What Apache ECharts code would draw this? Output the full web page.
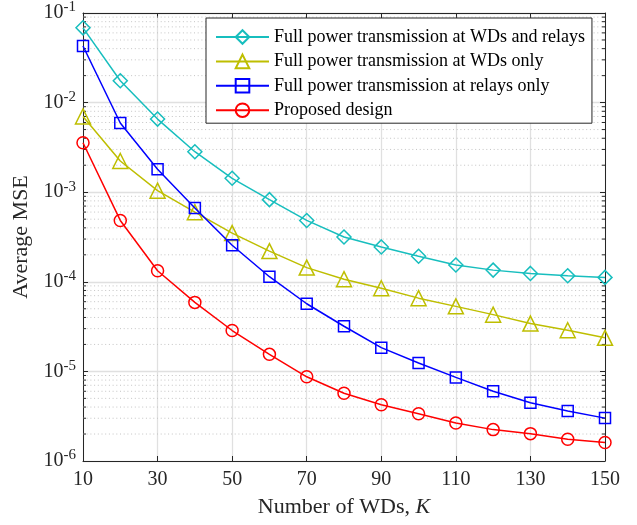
<!DOCTYPE html>
<html>
<head>
<meta charset="utf-8">
<script src="https://cdn.jsdelivr.net/npm/echarts@6/dist/echarts.min.js"></script>
<style>
html,body{margin:0;padding:0;background:#fff;}
#chart{width:637px;height:525px;}
</style>
</head>
<body>
<div id="chart"></div>
<script>
const kValues = [10,20,30,40,50,60,70,80,90,100,110,120,130,140,150];
const fullBoth = [0.0683,0.01755,0.00655,0.00283,0.00143,8.26e-4,4.84e-4,3.16e-4,2.45e-4,1.93e-4,1.54e-4,1.35e-4,1.24e-4,1.17e-4,1.12e-4];
const fullWDs = [0.00701,0.00223,0.00104,5.98e-4,3.50e-4,2.20e-4,1.44e-4,1.07e-4,8.47e-5,6.57e-5,5.32e-5,4.30e-5,3.42e-5,2.88e-5,2.37e-5];
const fullRelays = [0.0428,0.00592,0.00180,6.67e-4,2.56e-4,1.14e-4,5.69e-5,3.19e-5,1.84e-5,1.24e-5,8.57e-6,6.0e-6,4.46e-6,3.61e-6,3.01e-6];
const proposed = [0.00356,4.84e-4,1.33e-4,5.89e-5,2.86e-5,1.55e-5,8.71e-6,5.70e-6,4.24e-6,3.37e-6,2.65e-6,2.24e-6,2.02e-6,1.75e-6,1.61e-6];
const seriesNames = ['Full power transmission at WDs and relays','Full power transmission at WDs only','Full power transmission at relays only','Proposed design'];
const xTicks = {min:10, max:150, interval:20};
const yRange = {min:1e-6, max:1e-1};
const decadeExponents = [-6,-5,-4,-3,-2];
const minorMantissas = [2,3,4,5,6,7,8,9];

const FONT = 'Liberation Serif';
const colors = ['#17BEBE','#BEBE00','#0000FF','#FF0000'];
const symbols = ['diamond','triangle','rect','circle'];
const sizes = [14,15,11,12];
const datasets = [fullBoth, fullWDs, fullRelays, proposed];

const minorValues = [];
decadeExponents.forEach(e => minorMantissas.forEach(m => minorValues.push(m * Math.pow(10, e))));

const chart = echarts.init(document.getElementById('chart'), null, {renderer:'canvas'});

const series = datasets.map((d,i)=>({
  name: seriesNames[i],
  type:'line',
  data: kValues.map((k,j)=>[k,d[j]]),
  symbol: symbols[i],
  symbolSize: sizes[i],
  showSymbol: true,
  clip: false,
  lineStyle:{color:colors[i], width:1.5},
  itemStyle:{color:'rgba(0,0,0,0)', borderColor:colors[i], borderWidth:1.5},
  emphasis:{disabled:true},
  z: 3+i
}));

// minor log grid lines and minor ticks (left and right), positioned via the axis scale
series.unshift({
  type:'custom',
  name:'minorGrid',
  silent:true,
  z:1,
  clip:false,
  encode:{x:0, y:1},
  data: minorValues.map(v=>[xTicks.min, v]),
  renderItem:(params, api)=>{
    const v = api.value(1);
    const p0 = api.coord([xTicks.min, v]);
    const p1 = api.coord([xTicks.max, v]);
    return {type:'group', children:[
      {type:'line', shape:{x1:p0[0], y1:p0[1], x2:p1[0], y2:p1[1]}, style:{stroke:'#c4c4c4', lineWidth:1, lineDash:[1,2.7]}},
      {type:'line', shape:{x1:p0[0], y1:p0[1], x2:p0[0]+3, y2:p0[1]}, style:{stroke:'#262626', lineWidth:1}},
      {type:'line', shape:{x1:p1[0]-3, y1:p1[1], x2:p1[0], y2:p1[1]}, style:{stroke:'#262626', lineWidth:1}}
    ]};
  }
});

const yLabelFmt = v => '10{s|' + Math.round(Math.log10(v)) + '}';

const option = {
  animation:false,
  backgroundColor:'#fff',
  grid:{left:83, right:32, top:9, bottom:64, containLabel:false},
  legend:{
    orient:'vertical', left:206, top:18,
    padding:[10,7,4,9],
    itemWidth:53, itemHeight:17, itemGap:6.4,
    borderColor:'#262626', borderWidth:1, backgroundColor:'#fff',
    textStyle:{fontFamily:FONT, fontSize:18, color:'#000'},
    data: seriesNames
  },
  xAxis:[{
    type:'value', min:xTicks.min, max:xTicks.max, interval:xTicks.interval,
    name:'Number of WDs, {i|K}', nameLocation:'middle', nameGap:35,
    nameTextStyle:{fontFamily:FONT, fontSize:22, color:'#262626', rich:{i:{fontFamily:FONT, fontSize:22, fontStyle:'italic', color:'#262626'}}},
    axisLine:{show:true, lineStyle:{color:'#262626', width:1}},
    axisTick:{show:true, inside:true, length:5, lineStyle:{color:'#262626'}},
    axisLabel:{fontFamily:FONT, fontSize:20, color:'#262626', margin:9},
    splitLine:{show:true, lineStyle:{color:'#e0e0e0', width:1.3}}
  },{
    type:'value', position:'top', min:xTicks.min, max:xTicks.max, interval:xTicks.interval,
    axisLine:{show:true, lineStyle:{color:'#262626', width:1}},
    axisTick:{show:true, inside:true, length:5, lineStyle:{color:'#262626'}},
    axisLabel:{show:false}, splitLine:{show:false}
  }],
  yAxis:[{
    type:'log', logBase:10, min:yRange.min, max:yRange.max,
    name:'Average MSE', nameLocation:'middle', nameGap:44,
    nameTextStyle:{fontFamily:FONT, fontSize:22, color:'#262626'},
    axisLine:{show:true, lineStyle:{color:'#262626', width:1}},
    axisTick:{show:true, inside:true, length:5, lineStyle:{color:'#262626'}},
    axisLabel:{fontFamily:FONT, fontSize:20, color:'#262626', margin:7, formatter:yLabelFmt,
      rich:{s:{fontFamily:FONT, fontSize:15, color:'#262626', verticalAlign:'bottom', padding:[0,0,11,0]}}},
    splitLine:{show:true, lineStyle:{color:'#e0e0e0', width:1.3}}
  },{
    type:'log', logBase:10, min:yRange.min, max:yRange.max, position:'right',
    axisLine:{show:true, lineStyle:{color:'#262626', width:1}},
    axisTick:{show:true, inside:true, length:5, lineStyle:{color:'#262626'}},
    axisLabel:{show:false}, splitLine:{show:false}
  }],
  series: series
};
chart.setOption(option);
</script>
</body>
</html>
